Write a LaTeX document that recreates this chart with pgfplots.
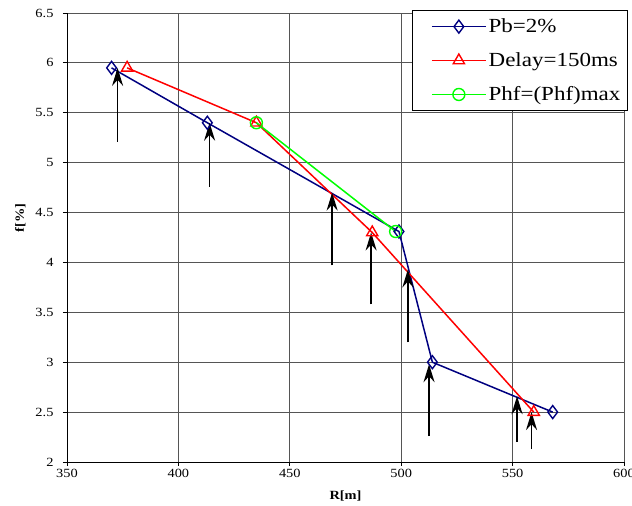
\documentclass[border=0pt]{standalone}
\usepackage{fontspec}
\setmainfont{Liberation Serif}[FakeStretch=1.15]
\usepackage{pgfplots}
\pgfplotsset{compat=1.18}
\usetikzlibrary{arrows.meta}
\definecolor{navyb}{RGB}{0,0,128}
\definecolor{grn}{RGB}{0,255,0}
\definecolor{gridc}{RGB}{85,85,85}
\begin{document}
\begin{tikzpicture}[x=1pt,y=1pt]
\useasboundingbox (0,0) rectangle (632,506);
\begin{axis}[
  at={(67pt,44pt)}, anchor=south west,
  width=557pt, height=449pt, scale only axis,
  xmin=350, xmax=600, ymin=2, ymax=6.5,
  xtick={350,400,450,500,550,600},
  ytick={2,2.5,3,3.5,4,4.5,5,5.5,6,6.5},
  yticklabels={2,2.5,3,3.5,4,4.5,5,5.5,6,6.5},
  xticklabels={350,400,450,500,550,600},
  grid=major, major grid style={gridc, line width=0.9pt},
  axis x line*=bottom, axis y line*=left,
  axis line style={black, line width=0.9pt},
  tick align=outside, major tick length=4pt,
  tick style={black, line width=0.9pt},
  xtick pos=bottom, ytick pos=left,
  tick label style={font=\fontsize{12.5}{14}\selectfont},
  yticklabel style={xshift=-6pt},
  /pgf/number format/assume math mode=true,
  xlabel={\textbf{R[m]}}, ylabel={\textbf{f[\%]}},
  label style={font=\fontsize{12.5}{14}\selectfont},
  xlabel style={at={(axis description cs:0.5,-0.075)}, anchor=center},
  ylabel style={at={(axis description cs:-0.084,0.543)}, anchor=center, rotate=0},
  legend style={at={(axis description cs:1.007,1.0067)}, anchor=north east,
    draw=black, line width=0.9pt, fill=white, font=\fontsize{20}{22}\selectfont,
    row sep=14.5pt, inner xsep=5pt, inner ysep=6.5pt},
  legend cell align=left,
  legend image code/.code={\path (-14pt,0pt); \draw[mark repeat=2,mark phase=2,line width=1.6pt] plot coordinates {(0pt,0pt) (27pt,0pt) (54pt,0pt)};},
  clip=false,
]
\addplot[navyb, line width=1.5pt, mark=diamond, mark size=6.5pt, mark options={line width=1.4pt, fill=white}]
  coordinates {(370,5.95) (413,5.4) (499,4.31) (514,3.0) (568,2.5)};
\addlegendentry{Pb=2\%}
\addplot[red, line width=1.5pt, mark=triangle, mark size=6.5pt, mark options={line width=1.4pt, fill=white}]
  coordinates {(377,5.95) (435,5.4) (487,4.3) (559.5,2.5)};
\addlegendentry{Delay=150ms}
\addplot[grn, line width=1.5pt, mark=o, mark size=6pt, mark options={line width=1.4pt}]
  coordinates {(435,5.4) (497.5,4.31)};
\addlegendentry{Phf=(Phf)max}
\addplot[black, line width=1.8pt, forget plot, -{Stealth[length=18pt,width=11pt,inset=6pt]},
  quiver={u=0, v=\thisrow{v}}] table {
x y v
372.7 5.21 0.74
414 4.76 0.64
469 3.97 0.73
486.5 3.58 0.72
503 3.20 0.73
512.5 2.26 0.72
552 2.20 0.46
558.5 2.13 0.37
};
\end{axis}
\end{tikzpicture}
\end{document}
